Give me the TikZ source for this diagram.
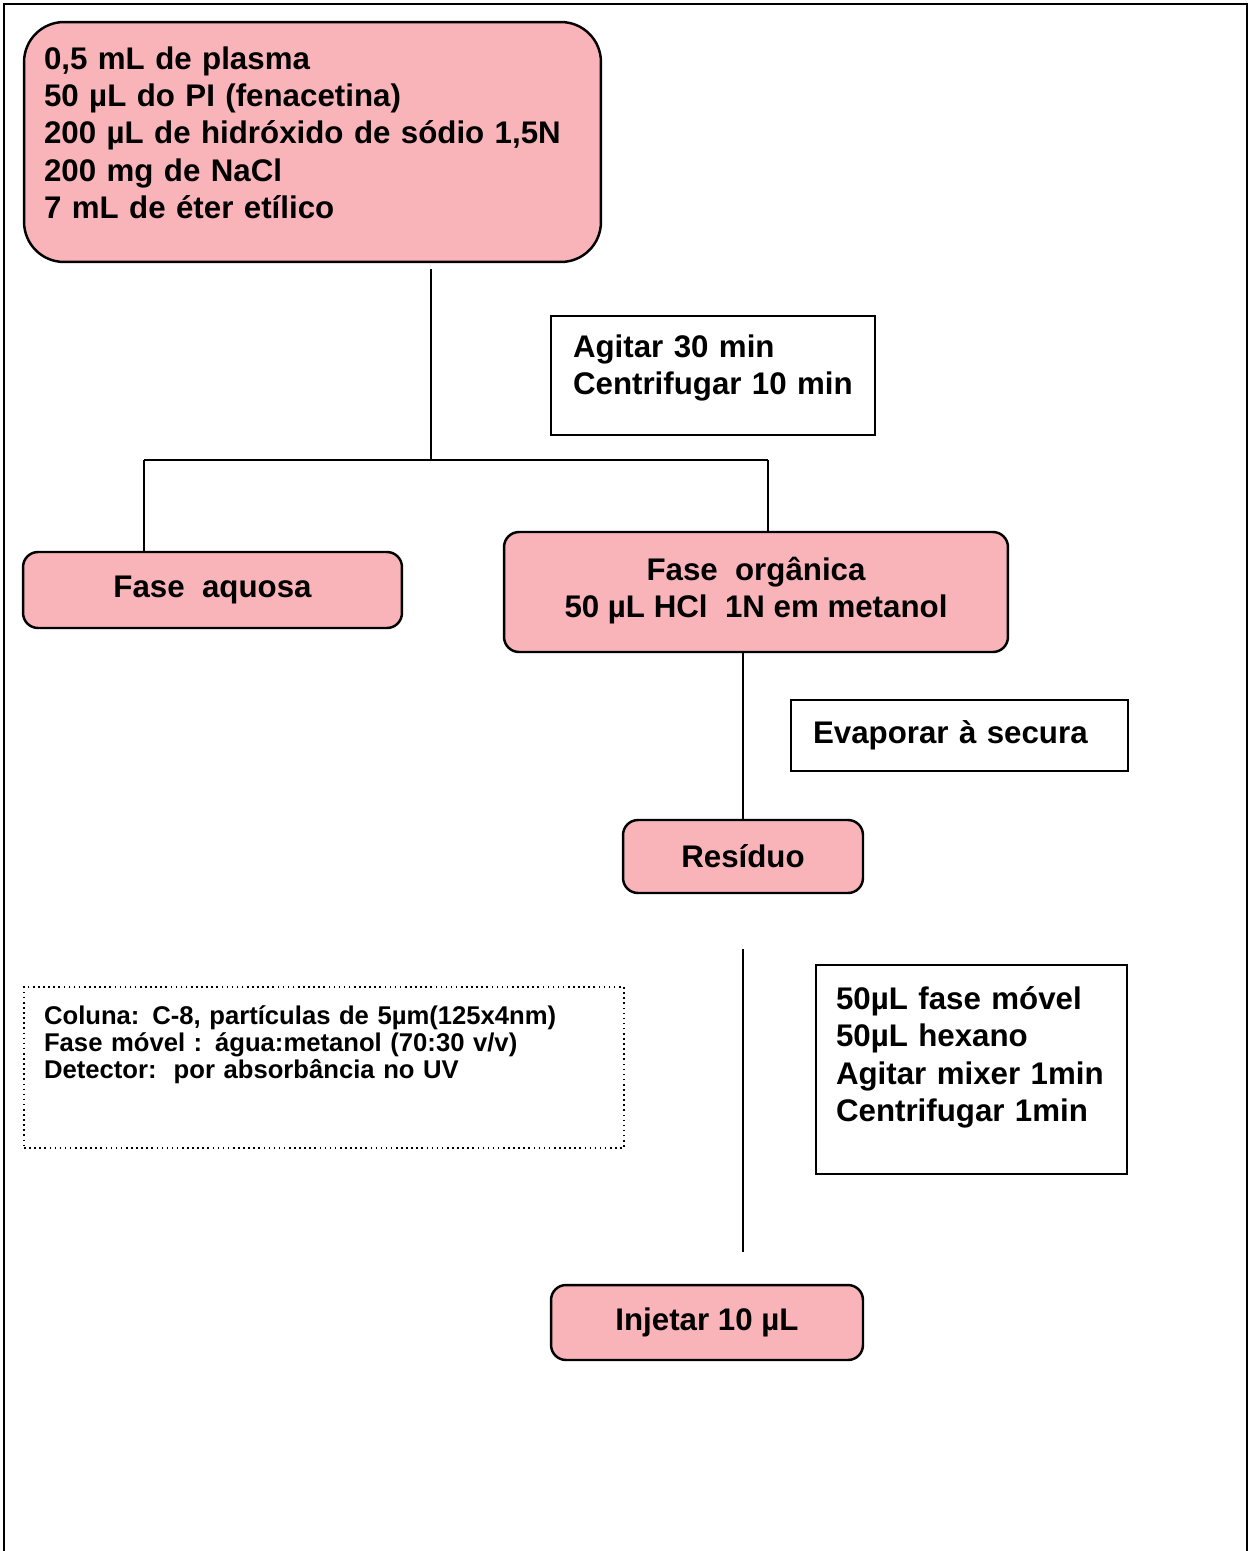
\documentclass[tikz,border=0pt]{standalone}
\usepackage{fontspec}
\setmainfont{Liberation Sans}
\usepackage{xcolor}
\usepackage{tikz}
\usetikzlibrary{positioning,calc}
\definecolor{extpink}{RGB}{249,180,186}
\newcommand{\bigtxt}{\bfseries\fontsize{17.8}{21.2}\selectfont}
\newcommand{\smalltxt}{\bfseries\fontsize{14.6}{15.4}\selectfont}
\newcommand{\extpad}[1]{\rule[-#1]{0pt}{#1}}
\tikzset{
  extstep/.style={draw, line width=1.4pt, fill=extpink, rounded corners=0.3cm, align=center, inner sep=0pt, font=\bigtxt},
  extnote/.style={draw, line width=1pt, align=left, inner xsep=0.44cm, inner ysep=0pt, font=\bigtxt},
  extinfo/.style={draw, dotted, line width=0.9pt, align=left, inner xsep=0.4cm, inner ysep=0pt, font=\smalltxt},
  extline/.style={line width=1.1pt}
}
\begin{document}
\begin{tikzpicture}[x=0.02cm, y=-0.02cm]
\useasboundingbox (0,0) rectangle (1250,1551);
\draw[line width=1.6pt] (4,1551) -- (4,4) -- (1247,4) -- (1247,1551);

\node[extstep, rounded corners=0.8cm, minimum width=11.54cm, minimum height=4.8cm, text width=10.74cm, align=left] (amostra) at (312.5,142) {0,5 mL de plasma\\50 µL do PI (fenacetina)\\200 µL de hidróxido de sódio 1,5N\\200 mg de NaCl\\7 mL de éter etílico\extpad{0.38cm}};
\node[extnote, minimum width=6.48cm, minimum height=2.38cm, text width=5.6cm] (agitar) at (713,375.5) {Agitar 30 min\\Centrifugar 10 min\extpad{0.42cm}};

\node[extstep, minimum width=7.58cm, minimum height=1.52cm] (aquosa) at (212.5,590) {Fase\ \ aquosa};
\node[extstep, minimum width=10.08cm, minimum height=2.4cm] (organica) at (756,592) {Fase\ \ orgânica\\50 µL HCl\ \ 1N em metanol\extpad{0.2cm}};
\node[extnote, minimum width=6.74cm, minimum height=1.42cm, text width=5.86cm] (evaporar) at (959.5,735.5) {Evaporar à secura};
\node[extstep, minimum width=4.8cm, minimum height=1.46cm] (residuo) at (743,856.5) {Resíduo};

\node[extinfo, minimum width=12cm, minimum height=3.22cm, text width=11.2cm] (coluna) at (324,1067.5) {Coluna: C-8, partículas de 5µm(125x4nm)\\Fase móvel : água:metanol (70:30 v/v)\\Detector:\ \ por absorbância no UV\extpad{1cm}};
\node[extnote, minimum width=6.22cm, minimum height=4.18cm, text width=5.42cm, inner xsep=0.4cm] (mixer) at (971.5,1069.5) {50µL fase móvel\\50µL hexano\\Agitar mixer 1min\\Centrifugar 1min\extpad{0.62cm}};
\node[extstep, minimum width=6.24cm, minimum height=1.5cm] (injetar) at (707,1322.5) {Injetar 10 µL};

% ramificacao depois da extracao
\coordinate (split) at (431,460);
\coordinate (lbranch) at (144,460);
\coordinate (rbranch) at (768,460);
\draw[extline, shorten <=0.12cm] (amostra.south -| split) -- (split);
\draw[extline] (lbranch) -- (rbranch);
\draw[extline] (lbranch) -- (lbranch |- aquosa.north);
\draw[extline] (rbranch) -- (rbranch |- organica.north);
\draw[extline] (residuo.north |- organica.south) -- (residuo.north);
\draw[extline, shorten <=1.1cm, shorten >=0.64cm] (residuo.south) -- (residuo.south |- injetar.north);
\end{tikzpicture}
\end{document}
